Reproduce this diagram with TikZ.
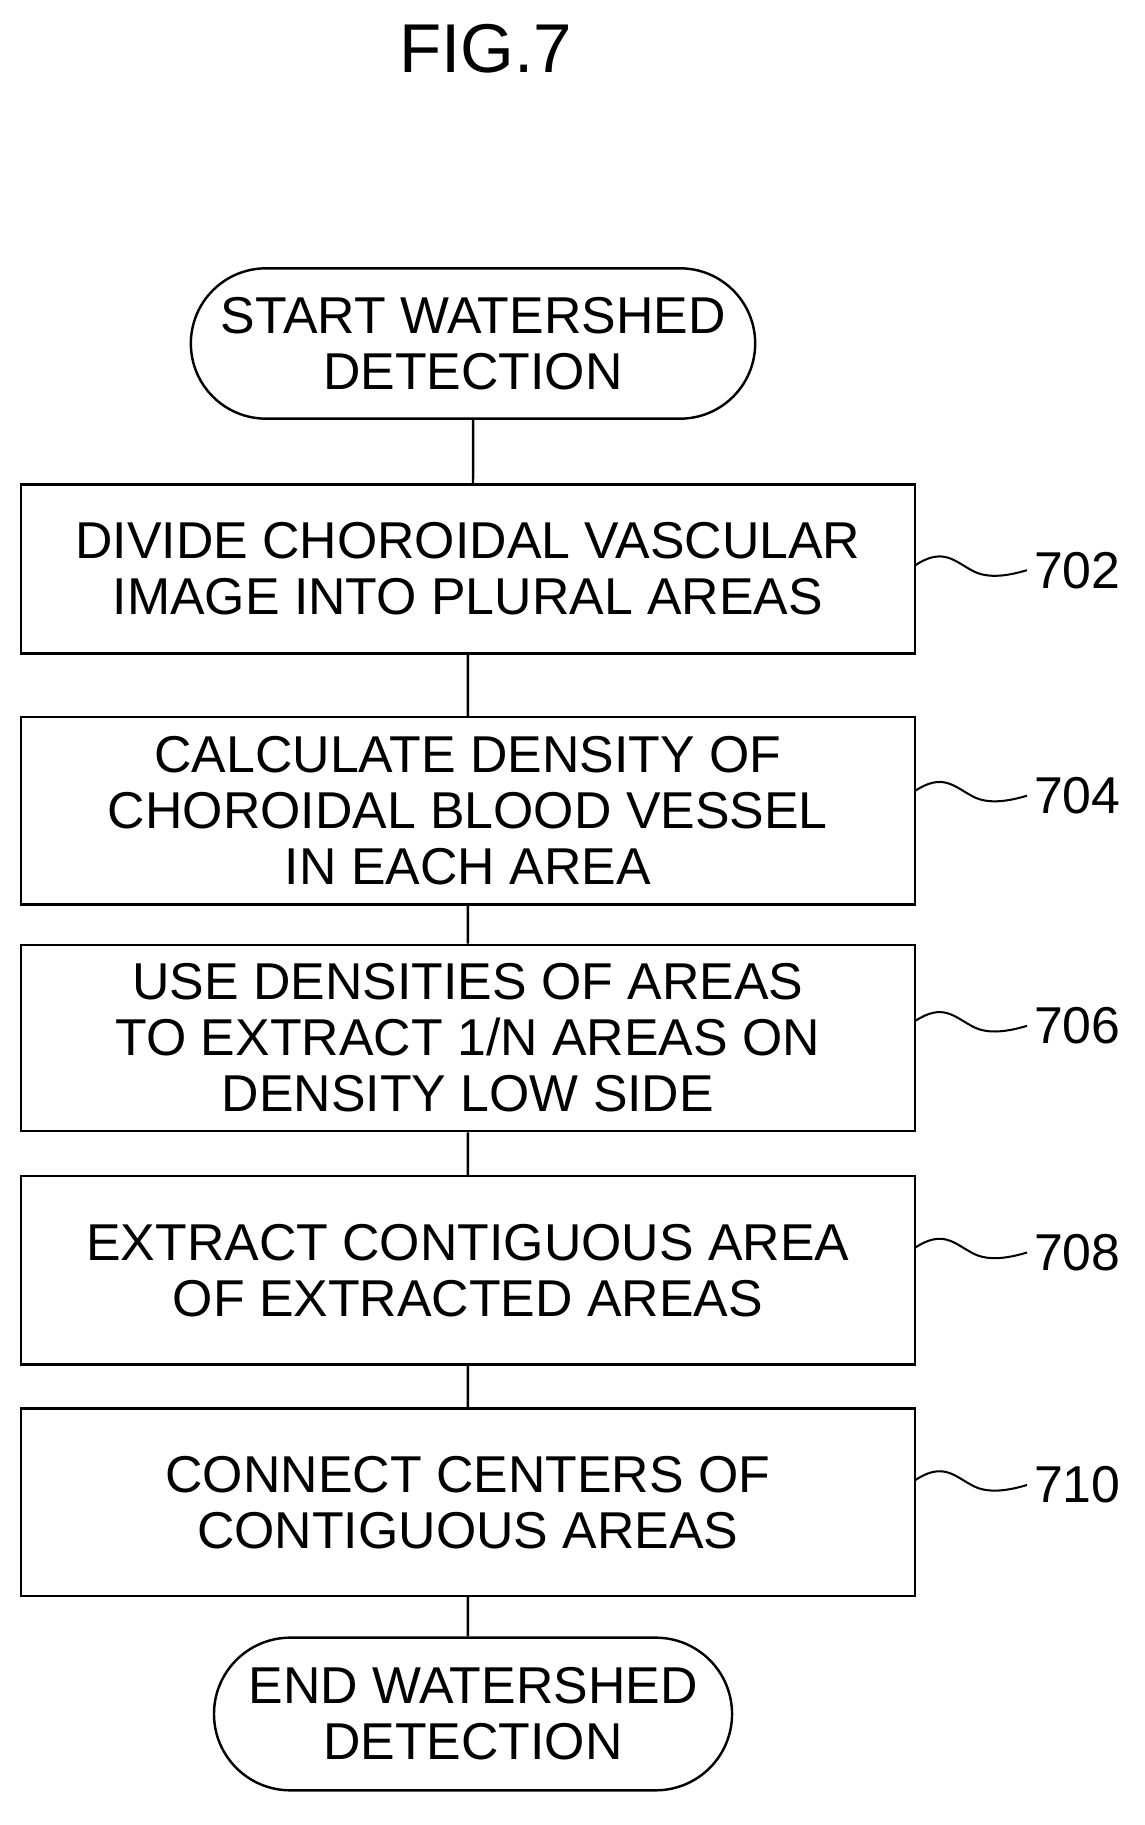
\documentclass[tikz,border=0pt]{standalone}
\usepackage{fontspec}
\setmainfont{Liberation Sans}
\usetikzlibrary{shapes,positioning,calc}
\begin{document}
\begin{tikzpicture}[x=0.02cm,y=-0.02cm,
          proc/.style={draw,line width=1.2pt,rectangle,minimum width=773*0.02cm,align=center,font=\fontsize{25.5}{27.5}\selectfont},
          term/.style={draw,line width=1.2pt,rounded rectangle,align=center,font=\fontsize{25.5}{27.5}\selectfont,inner xsep=4pt},
          lbl/.style={font=\fontsize{25.5}{27}\selectfont}]

                \useasboundingbox (0,0) rectangle (990,1578);
                \node (T) at (420,42) {\fontsize{34}{36}\selectfont FIG.7};

                \node (S) [term,minimum width=502*0.02cm,minimum height=130*0.02cm] at (409,297) {START WATERSHED\\DETECTION};
                \node (A) [proc,minimum height=146*0.02cm] at (404.5,492) {DIVIDE CHOROIDAL VASCULAR\\IMAGE INTO PLURAL AREAS};
                \node (B) [proc,minimum height=162*0.02cm] at (404.5,701) {CALCULATE DENSITY OF\\CHOROIDAL BLOOD VESSEL\\IN EACH AREA};
                \node (C) [proc,minimum height=161*0.02cm] at (404.5,897.5) {USE DENSITIES OF AREAS\\TO EXTRACT 1/N AREAS ON\\DENSITY LOW SIDE};
                \node (D) [proc,minimum height=163*0.02cm] at (404.5,1098.5) {EXTRACT CONTIGUOUS AREA\\OF EXTRACTED AREAS};
                \node (E) [proc,minimum height=162*0.02cm] at (404.5,1299) {CONNECT CENTERS OF\\CONTIGUOUS AREAS};
                \node (F) [term,minimum width=462*0.02cm,minimum height=132*0.02cm] at (409,1482) {END WATERSHED\\DETECTION};

                \draw[line width=1.2pt] (S) -- (S|-A.north) (A) -- (A|-B.north) (B) -- (B|-C.north)
                  (C) -- (C|-D.north) (D) -- (D|-E.north) (E) -- (E|-F.north);

                \foreach \n/\y/\t in {A/493/702,B/688/704,C/887/706,D/1083/708,E/1284/710}{
                  \node (L\t) [lbl,anchor=west] at (888,\y) {\t};
                  \draw[line width=1pt] (791,\y-4) .. controls (815,\y-20) and (825,\y-8) .. (840,\y)
                    .. controls (852,\y+7) and (868,\y+6) .. (L\t.west);
                }
              \end{tikzpicture}
\end{document}
